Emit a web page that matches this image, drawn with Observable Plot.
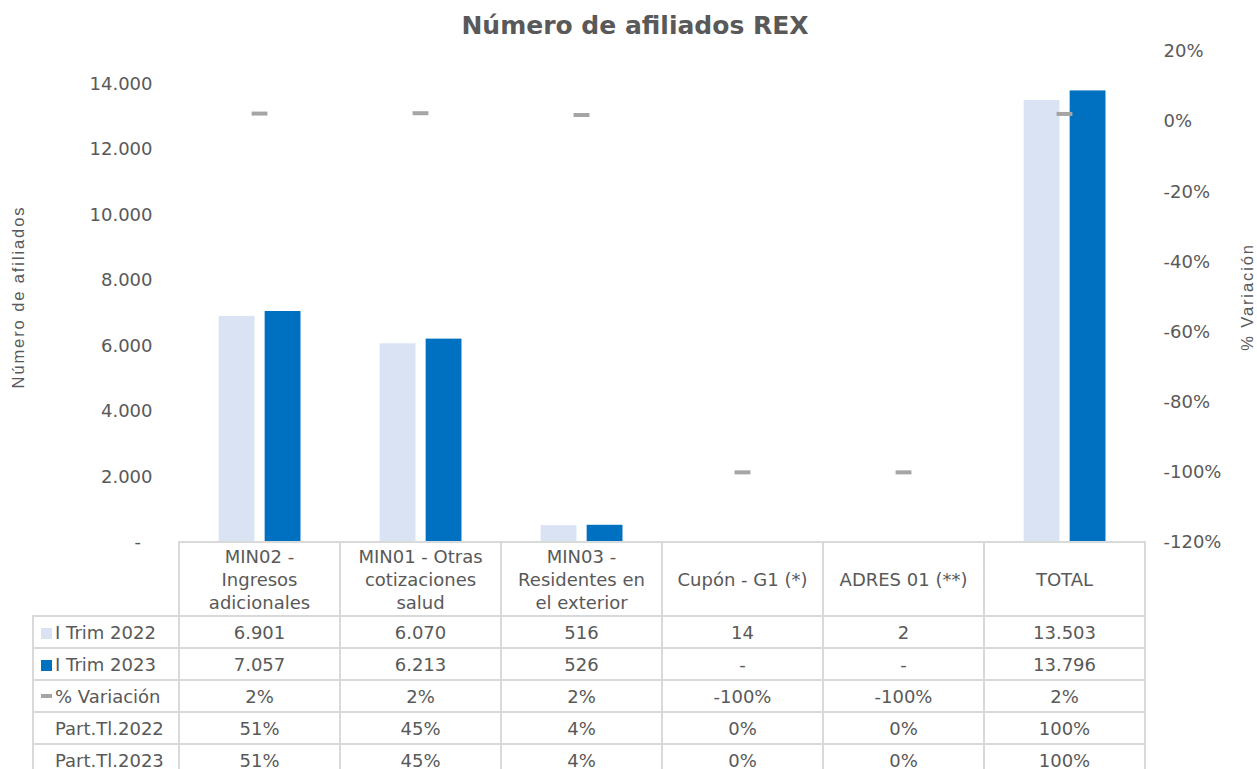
<!DOCTYPE html>
<html>
<head>
<meta charset="utf-8">
<script src="https://cdn.jsdelivr.net/npm/d3@7"></script>
<script src="https://cdn.jsdelivr.net/npm/@observablehq/plot@0.6"></script>
<style>
  body { margin: 0; background: #fff; }
  #wrap { position: relative; width: 1257px; height: 769px; overflow: hidden;
          font-family: "DejaVu Sans", Verdana, sans-serif; color: #595959; }
  #title { position: absolute; left: 0; top: 11px; width: 1270px; text-align: center;
           font-weight: bold; font-size: 25px; line-height: 30px; color: #595959; }
  #chart { position: absolute; left: 0; top: 0; }
  #tbl { position: absolute; border-collapse: collapse; table-layout: fixed;
         font-size: 18px; color: #595959; }
  #tbl td { border: 2px solid #D9D9D9; padding: 0; text-align: center; vertical-align: middle;
            white-space: nowrap; overflow: hidden; }
  #tbl td.blank { border: none; }
  #tbl td.leg { text-align: left; padding-left: 7px; }
  #tbl tr.head td { line-height: 23px; }
  .sw { display: inline-block; width: 11px; height: 11px; margin-right: 3px; vertical-align: 0px; }
  .sw.dash { height: 4px; vertical-align: 5px; }
</style>
</head>
<body>
<div id="wrap">
  <div id="chart"></div>
  <div id="title">Número de afiliados REX</div>
</div>
<script>
// ---- data ----
const categories = ["MIN02", "MIN01", "MIN03", "Cupón", "ADRES", "TOTAL"];
const headerLabels = [
  ["MIN02 -", "Ingresos", "adicionales"],
  ["MIN01 - Otras", "cotizaciones", "salud"],
  ["MIN03 -", "Residentes en", "el exterior"],
  ["Cupón - G1 (*)"],
  ["ADRES 01 (**)"],
  ["TOTAL"]
];
const trim2022 = [6901, 6070, 516, 14, 2, 13503];
const trim2023 = [7057, 6213, 526, null, null, 13796];
const variacion = [2.3, 2.4, 1.9, -100, -100, 2.2];
const part2022 = [51, 45, 4, 0, 0, 100];
const part2023 = [51, 45, 4, 0, 0, 100];
const seriesNames = ["I Trim 2022", "I Trim 2023", "% Variación", "Part.Tl.2022", "Part.Tl.2023"];
const leftTicks = [0, 2000, 4000, 6000, 8000, 10000, 12000, 14000];
const pctTicks = [-120, -100, -80, -60, -40, -20, 0, 20];
const yMax = 15000;
const pMin = -120, pMax = 20;

const colors = { c2022: "#DAE3F3", c2023: "#0070C0", var: "#A5A5A5" };

// ---- helpers ----
const loc = d3.formatLocale({decimal: ",", thousands: ".", grouping: [3], currency: ["$", ""], minus: "-"});
const fmt = loc.format(",d");
const fmtInt = loc.format(".0f");
const pctToY = p => (p - pMin) / (pMax - pMin) * yMax;
const yToPct = y => Math.round(y / yMax * (pMax - pMin) + pMin);

const d2022 = categories.map((c, i) => ({cat: c, value: trim2022[i]}));
const d2023 = categories.map((c, i) => ({cat: c, value: trim2023[i] ?? 0}));
const dVar = categories.map((c, i) => ({cat: c, v: variacion[i]}));

const W = 1257, mL = 178, mR = 112;
const band = (W - mL - mR) / categories.length;

const plot = Plot.plot({
  width: W, height: 545,
  marginTop: 51, marginBottom: 3, marginLeft: mL, marginRight: mR,
  style: { fontFamily: "DejaVu Sans", fontSize: "18px", color: "#595959", background: "transparent", overflow: "visible" },
  x: { domain: categories, padding: 0, axis: null },
  y: { domain: [0, yMax], axis: null },
  marks: [
    Plot.axisY({ anchor: "left", ticks: leftTicks, tickSize: 0, tickPadding: 26, label: null,
                 tickFormat: d => d === 0 ? "-\u00a0\u00a0" : fmt(d) }),
    Plot.axisY({ anchor: "right", ticks: pctTicks.map(pctToY), tickSize: 0, tickPadding: 18, label: null,
                 tickFormat: d => fmtInt(yToPct(d)) + "%" }),
    Plot.barY(d2022, { x: "cat", y: "value", fill: colors.c2022,
                       insetLeft: band * 0.246, insetRight: band - band * 0.246 - 36 }),
    Plot.barY(d2023, { x: "cat", y: "value", fill: colors.c2023,
                       insetLeft: band * 0.246 + 46, insetRight: band - band * 0.246 - 82 }),
    Plot.tickY(dVar, { x: "cat", y: d => pctToY(d.v), stroke: colors.var, strokeWidth: 4,
                       insetLeft: (band - 16) / 2, insetRight: (band - 16) / 2 }),
    Plot.text(["Número de afiliados"], { frameAnchor: "left", textAnchor: "middle", dx: -160, rotate: -90,
                       fontFamily: "Liberation Sans", fontSize: 16.5, fill: "#595959" }),
    Plot.text(["% Variación"], { frameAnchor: "right", textAnchor: "middle", dx: 102, rotate: -90,
                       fontFamily: "Liberation Sans", fontSize: 16.5, fill: "#595959" })
  ]
});
d3.select(plot).selectAll('g[aria-label="text"] text').attr("letter-spacing", "1.9px");
document.getElementById("chart").appendChild(plot);

// ---- data table aligned with the x scale ----
const xs = plot.scale("x");
const x0 = xs.apply(categories[0]);
const bw = xs.bandwidth;
const tableLeft = 33;
const legW = x0 - tableLeft;

const tbl = document.createElement("table");
tbl.id = "tbl";
tbl.style.left = (tableLeft - 1) + "px";
tbl.style.top = "541px";
tbl.style.width = (legW + bw * categories.length) + "px";
const cg = document.createElement("colgroup");
[legW, ...categories.map(() => bw)].forEach(w => {
  const col = document.createElement("col"); col.style.width = w + "px"; cg.appendChild(col);
});
tbl.appendChild(cg);

const hr = tbl.insertRow(); hr.className = "head"; hr.style.height = "74px";
const blank = hr.insertCell(); blank.className = "blank";
headerLabels.forEach(lines => { const c = hr.insertCell(); c.innerHTML = lines.join("<br>"); });

const fmtCount = v => v == null ? "-" : fmt(v);
const fmtPct = v => fmtInt(v) + "%";
const rows = [
  { name: seriesNames[0], sw: "box", color: colors.c2022, vals: trim2022.map(fmtCount) },
  { name: seriesNames[1], sw: "box", color: colors.c2023, vals: trim2023.map(fmtCount) },
  { name: seriesNames[2], sw: "dash", color: colors.var, vals: variacion.map(fmtPct) },
  { name: seriesNames[3], sw: "none", vals: part2022.map(fmtPct) },
  { name: seriesNames[4], sw: "none", vals: part2023.map(fmtPct) }
];
rows.forEach(r => {
  const tr = tbl.insertRow(); tr.style.height = "32px";
  const lc = tr.insertCell(); lc.className = "leg";
  const sw = document.createElement("span");
  sw.className = "sw" + (r.sw === "dash" ? " dash" : "");
  if (r.sw === "none") sw.style.visibility = "hidden"; else sw.style.background = r.color;
  lc.appendChild(sw);
  lc.appendChild(document.createTextNode(r.name));
  r.vals.forEach(v => { const c = tr.insertCell(); c.textContent = v; });
});
document.getElementById("wrap").appendChild(tbl);
</script>
</body>
</html>
